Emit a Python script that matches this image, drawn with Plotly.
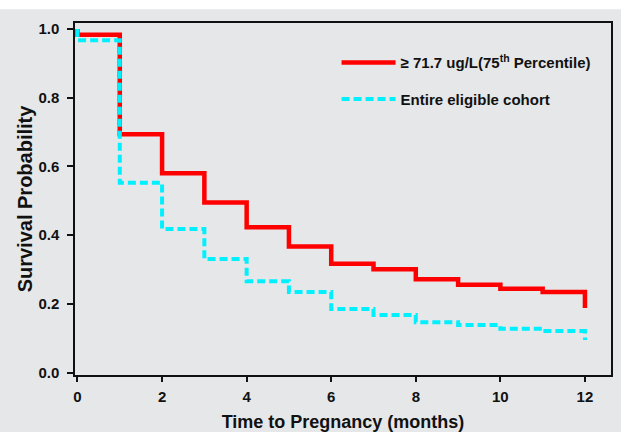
import plotly.graph_objects as go

# ---- data ----
months = [0, 0, 1, 2, 3, 4, 5, 6, 7, 8, 9, 10, 11, 12]
surv_high = [1.0, 0.983, 0.694, 0.580, 0.495, 0.423, 0.367, 0.317, 0.301, 0.272, 0.256, 0.244, 0.235, 0.188]
surv_all = [1.0, 0.967, 0.553, 0.418, 0.331, 0.266, 0.235, 0.185, 0.168, 0.147, 0.139, 0.128, 0.121, 0.095]
x_ticks = [0, 2, 4, 6, 8, 10, 12]
y_ticks = [0.0, 0.2, 0.4, 0.6, 0.8, 1.0]
y_tick_text = ["0.0", "0.2", "0.4", "0.6", "0.8", "1.0"]
name_high = "≥ 71.7 ug/L(75<sup>th</sup> Percentile)"
name_all = "Entire eligible cohort"

BG = "#e6e7e8"
FONT = "Liberation Sans, Arial, sans-serif"

fig = go.Figure()
fig.add_trace(go.Scatter(
    x=months, y=surv_high, mode="lines", line_shape="hv",
    line=dict(color="#ff0000", width=4.5), name=name_high, legendgroup="a",
))
fig.add_trace(go.Scatter(
    x=months, y=surv_all, mode="lines", line_shape="hv",
    line=dict(color="#00f0ff", width=4, dash="8px,4px"), name=name_all, legendgroup="b",
))

fig.update_layout(
    width=621, height=432,
    margin=dict(l=75, r=10, t=23, b=57, autoexpand=False),
    paper_bgcolor=BG, plot_bgcolor=BG,
    font=dict(family=FONT, color="#111111"),
    showlegend=True,
    legend=dict(
        x=0.488, xanchor="left", y=0.934, yanchor="top",
        bgcolor="rgba(0,0,0,0)", tracegroupgap=14, itemwidth=54,
        font=dict(family=FONT, size=15, color="#111111", weight="bold"),
        traceorder="grouped",
    ),
    xaxis=dict(
        range=[-0.059, 12.616], tickvals=x_ticks, ticks="outside", ticklen=5,
        tickwidth=1.5, tickcolor="#111111", automargin=False,
        showline=True, linecolor="#111111", linewidth=1.5, mirror=True,
        showgrid=False, zeroline=False,
        tickfont=dict(family=FONT, size=15, weight="bold"),
        ticklabelstandoff=2,
        title=dict(text="Time to Pregnancy (months)",
                   font=dict(family=FONT, size=18, weight="bold"), standoff=14),
    ),
    yaxis=dict(
        range=[-0.0067, 1.0175], tickvals=y_ticks, ticktext=y_tick_text,
        ticks="outside", ticklen=6, tickwidth=1.5, tickcolor="#111111",
        showline=True, linecolor="#111111", linewidth=1.5, mirror=True,
        showgrid=False, zeroline=False, automargin=False,
        tickfont=dict(family=FONT, size=15, weight="bold"),
        ticklabelstandoff=5,
        title=dict(text="Survival Probability",
                   font=dict(family=FONT, size=20, weight="bold"), standoff=0),
    ),
    shapes=[dict(type="rect", xref="paper", yref="paper",
                 x0=-0.2, x1=1.1, y0=1.039, y1=1.1,
                 fillcolor="#ffffff", line=dict(width=0), layer="below")],
)

fig.write_html(
    "out.html",
    config={"displayModeBar": False},
    post_script="document.body.style.margin='0';document.body.style.overflow='hidden';",
)
